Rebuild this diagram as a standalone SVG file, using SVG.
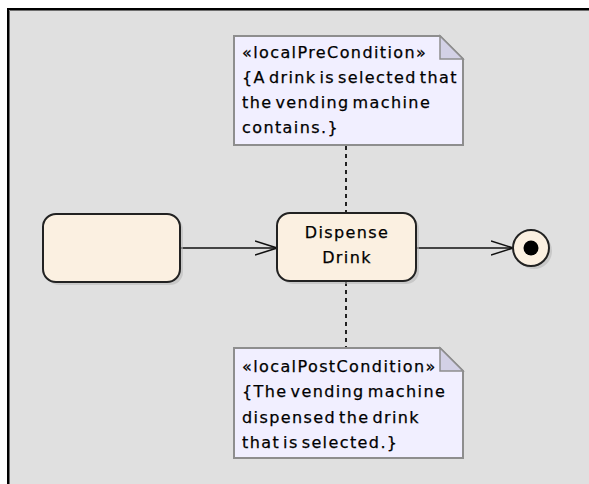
<svg xmlns="http://www.w3.org/2000/svg" width="589" height="484" viewBox="0 0 589 484">
<defs>
<style>
.t{font-family:"DejaVu Sans",Verdana,sans-serif;font-size:16px;letter-spacing:1.4px;word-spacing:-3.5px;fill:#000;stroke:#000;stroke-width:0.25px}
.node{fill:#fbf0e1;stroke:#222;stroke-width:2}
.shadow{fill:#b8b8b8;opacity:0.6}
.note{fill:#f1efff;stroke:#8e8e8e;stroke-width:2}
.fold{fill:#d3d1e6;stroke:#8e8e8e;stroke-width:1.5}
.edge{stroke:#111;stroke-width:1.6;fill:none}
.anchor{stroke:#222;stroke-width:2;stroke-dasharray:4 4;fill:none}
</style>
<marker id="open" markerWidth="24" markerHeight="16" refX="22" refY="8" orient="auto" markerUnits="userSpaceOnUse">
<path d="M0,1 L22,8 L0,15" fill="none" stroke="#111" stroke-width="1.5"/>
</marker>
</defs>
<rect x="0" y="0" width="589" height="484" fill="#fff"/>
<rect x="8" y="9" width="600" height="500" fill="#e0e0e0" stroke="#000" stroke-width="2"/>
<path d="M9.5,484 V10.5 H589" fill="none" stroke="#6e6e6e" stroke-width="1"/>

<g id="connectors">
<line class="edge" x1="180" y1="248" x2="277" y2="248" marker-end="url(#open)"/>
<line class="edge" x1="417" y1="248" x2="513" y2="248" marker-end="url(#open)"/>
<line class="anchor" x1="346" y1="146" x2="346" y2="213"/>
<line class="anchor" x1="346" y1="282" x2="346" y2="347"/>
</g>

<g id="action1">
<rect class="shadow" x="46" y="217" width="137" height="68" rx="13"/>
<rect class="node" x="43" y="214" width="137" height="68" rx="13"/>
</g>

<g id="dispenseDrink">
<rect class="shadow" x="280" y="216" width="139" height="68" rx="13"/>
<rect class="node" x="277" y="213" width="139" height="68" rx="13"/>
<text class="t" x="347" y="238" text-anchor="middle">Dispense</text>
<text class="t" x="347" y="263" text-anchor="middle">Drink</text>
</g>

<g id="final">
<circle cx="534" cy="251" r="18" class="shadow"/>
<circle cx="531" cy="248" r="18" fill="#fbf0e1" stroke="#222" stroke-width="2"/>
<circle cx="531" cy="248" r="7.5" fill="#000"/>
</g>

<g id="preCondition">
<path class="note" d="M234,36 H440 L463,59 V145 H234 Z"/>
<path class="fold" d="M440,36 V59 H463 Z"/>
<text class="t" x="242" y="58">«localPreCondition»</text>
<text class="t" x="242" y="83">{A drink is selected that</text>
<text class="t" x="242" y="108">the vending machine</text>
<text class="t" x="242" y="133">contains.}</text>
</g>

<g id="postCondition">
<path class="note" d="M234,348 H440 L463,371 V458 H234 Z"/>
<path class="fold" d="M440,348 V371 H463 Z"/>
<text class="t" x="242" y="372">«localPostCondition»</text>
<text class="t" x="242" y="397">{The vending machine</text>
<text class="t" x="242" y="423">dispensed the drink</text>
<text class="t" x="242" y="448">that is selected.}</text>
</g>
</svg>
